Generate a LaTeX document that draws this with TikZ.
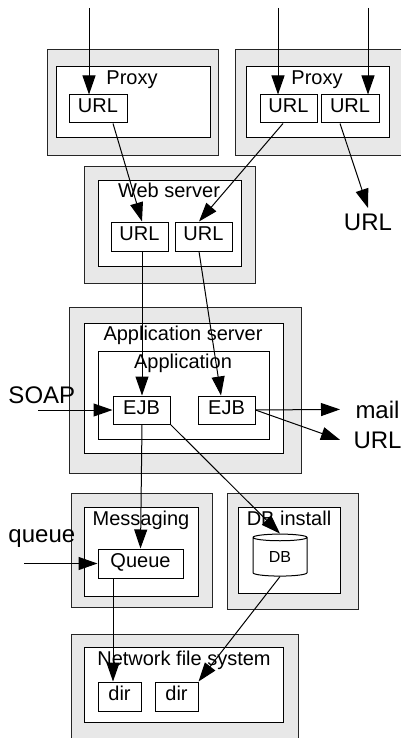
\documentclass[tikz,border=0pt]{standalone}
\usepackage{fontspec}
\setmainfont{Liberation Sans}
\usetikzlibrary{arrows.meta,shapes.geometric}

\begin{document}
\begin{tikzpicture}[x=1pt, y=-1pt, line width=1pt, >={Triangle[length=19pt,width=13pt]},
    host/.style={draw=black!85, fill=black!9, inner sep=0pt, anchor=north west},
    cont/.style={draw=black, fill=white, inner sep=0pt, anchor=north west},
    part/.style={draw=black, fill=white, inner sep=0pt, font=\fontsize{20}{24}\selectfont, text height=14pt, text depth=6pt},
    title/.style={inner sep=0pt, anchor=base, font=\fontsize{20}{24}\selectfont},
    ext/.style={inner sep=0pt, font=\fontsize{24}{28}\selectfont}]
    \useasboundingbox (0,0) rectangle (401,738);
    \clip (0,0) rectangle (401,738);

    \node[host, minimum width=171pt, minimum height=106pt] at (47,49) (H1) {};
    \node[cont, minimum width=154pt, minimum height=71pt] at (56,66) (C1) {};
    \node[title] at (132,85) (T1) {Proxy};
    \node[part, minimum width=58pt, minimum height=28pt] at (98,109) (PU) {URL};

    \node[host, minimum width=165.5pt, minimum height=106pt] at (235,49) (H2) {};
    \node[cont, minimum width=143pt, minimum height=71pt] at (246,66) (C2) {};
    \node[title] at (317,85) (T2) {Proxy};
    \node[part, minimum width=57pt, minimum height=28pt] at (288.5,109) (QU1) {URL};
    \node[part, minimum width=58pt, minimum height=28pt] at (350,109) (QU2) {URL};

    \node[host, minimum width=171pt, minimum height=117pt] at (84,166) (H3) {};
    \node[cont, minimum width=143pt, minimum height=86pt] at (98,180) (C3) {};
    \node[title] at (169,197) (T3) {Web server};
    \node[part, minimum width=57pt, minimum height=29pt] at (139.5,236.5) (WU1) {URL};
    \node[part, minimum width=57pt, minimum height=29pt] at (203.5,236.5) (WU2) {URL};

    \node[host, minimum width=232pt, minimum height=166pt] at (69,307) (H4) {};
    \node[cont, minimum width=199pt, minimum height=130pt] at (84,323) (C4) {};
    \node[title] at (183,340) (T4) {Application server};
    \node[cont, minimum width=171pt, minimum height=88pt] at (98,351) (A) {};
    \node[title] at (183,368) (TA) {Application};
    \node[part, minimum width=57pt, minimum height=28pt] at (141.5,410) (E1) {EJB};
    \node[part, minimum width=57pt, minimum height=28pt] at (226.5,410) (E2) {EJB};

    \node[host, minimum width=141pt, minimum height=114pt] at (71,493) (H5) {};
    \node[cont, minimum width=114pt, minimum height=89pt] at (84,507) (C5) {};
    \node[title] at (141,525) (T5) {Messaging};
    \node[part, minimum width=85pt, minimum height=29pt] at (140.5,563.5) (Q) {Queue};

    \node[host, minimum width=131pt, minimum height=116pt] at (227,493) (H6) {};
    \node[cont, minimum width=102pt, minimum height=86pt] at (238,507) (C6) {};
    \node[title] at (289,525) (T6) {DB install};
    \node[cylinder, shape border rotate=90, aspect=0.3, draw=black, fill=white, inner sep=0pt,
          minimum width=54pt, minimum height=42pt, font=\fontsize{16}{19}\selectfont] at (280,557) (DB) {DB};

    \node[host, minimum width=227pt, minimum height=120pt] at (71,634) (H7) {};
    \node[cont, minimum width=199pt, minimum height=75pt] at (84,647) (C7) {};
    \node[title] at (184,665) (T7) {Network file system};
    \node[part, minimum width=43pt, minimum height=29pt] at (119.5,696.5) (D1) {dir};
    \node[part, minimum width=43pt, minimum height=29pt] at (176.5,696.5) (D2) {dir};

    \node[ext, anchor=base] at (368,230) (UT) {URL};
    \node[ext, anchor=base west] at (8,403) (SO) {SOAP};
    \node[ext, anchor=base west] at (355,418) (ML) {mail};
    \node[ext, anchor=base west] at (353,448) (UL) {URL};
    \node[ext, anchor=base west] at (8,542) (QL) {queue};

    \coordinate (in1) at (89,8);
    \coordinate (in2) at (278,8);
    \coordinate (in3) at (368,8);
    \coordinate (soapin) at (38,410);
    \coordinate (queuein) at (24,563.5);

    \path [->] (in1) edge ([xshift=-9pt]PU.north);
    \path [->] (in2) edge ([xshift=-10.5pt]QU1.north);
    \path [->] (in3) edge ([xshift=18pt]QU2.north);
    \path [->] ([xshift=15pt]PU.south) edge ([xshift=2.5pt]WU1.north);
    \path [->] ([xshift=-5.5pt]QU1.south) edge ([xshift=-4.5pt]WU2.north);
    \path [->] ([xshift=-10pt]QU2.south) edge ([yshift=5pt]UT.north);
    \path [->] ([xshift=2.5pt]WU1.south) edge ([xshift=0.5pt]E1.north);
    \path [->] ([xshift=-4.5pt]WU2.south) edge ([xshift=-5.5pt]E2.north);
    \path [->] (soapin) edge (E1.west);
    \path [->] (E2.east) edge ([xshift=-15pt]ML.west);
    \path [->] (E2.east) edge ([xshift=-13pt]UL.west);
    \path [->] ([xshift=0.5pt]E1.south) edge (Q.north);
    \path [->] (E1.south east) edge (DB.north);
    \path [->] (queuein) edge (Q.west);
    \path [->] ([xshift=-27.5pt]Q.south) edge ([xshift=-6.5pt]D1.north);
    \path [->] (DB.south) edge (D2.north east);
\end{tikzpicture}
\end{document}
